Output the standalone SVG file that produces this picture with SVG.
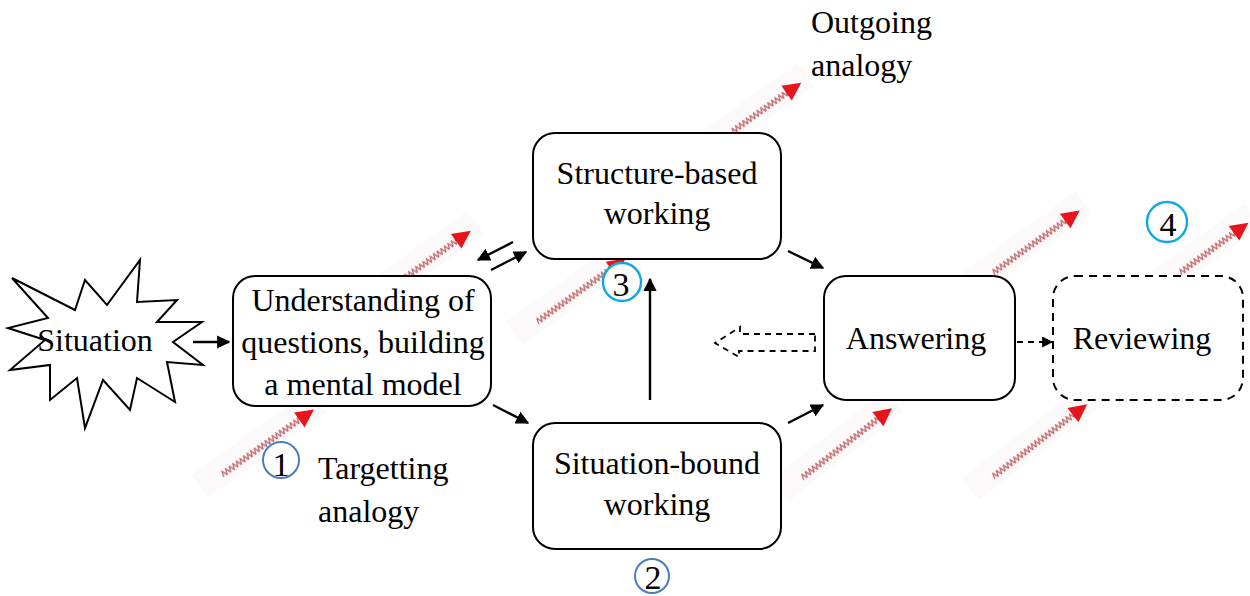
<svg xmlns="http://www.w3.org/2000/svg" width="1250" height="596" viewBox="0 0 1250 596">
  <style>
    .lbl { font-family: "Liberation Serif", "Times New Roman", serif; font-size: 32px; fill: #000; }
    .mid { text-anchor: middle; }
    .box { fill: #fff; stroke: #000; stroke-width: 2; }
    .dbox { fill: #fff; stroke: #000; stroke-width: 2; stroke-dasharray: 8 6; }
    .link { fill: none; stroke: #000; stroke-width: 2.4; marker-end: url(#head); }
    .dlink { fill: none; stroke: #000; stroke-width: 2; stroke-dasharray: 6 5; marker-end: url(#head); }
    .band { fill: #f5f0f0; opacity: 0.4; }
    .tip { fill: #e8141b; }
    .num { font-family: "Liberation Serif", "Times New Roman", serif; font-size: 34px; fill: #000; text-anchor: middle; }
    .c1 { fill: #fff; stroke: #4a7cc2; stroke-width: 2; }
    .c2 { fill: #fff; stroke: #10a8e4; stroke-width: 2.4; }
  </style>
  <defs>
    <marker id="head" viewBox="0 0 10 10" refX="9" refY="5" markerWidth="5.5" markerHeight="5.5" orient="auto" markerUnits="strokeWidth">
      <path d="M0,0 L10,5 L0,10 Z" fill="#000"/>
    </marker>
    <!-- zigzag stroke used by the diagonal wavy arrows -->
    <pattern id="zz" patternUnits="userSpaceOnUse" width="4.4" height="8" y="-4">
      <polyline points="0,7 2.2,1 4.4,7" fill="none" stroke="#c06a6e" stroke-width="1.3"/>
    </pattern>
  </defs>

  <!-- diagonal wavy arrows (drawn beneath the nodes) -->
  <g id="wavy-arrows">
    <g transform="translate(732,132) rotate(-35.5)">
      <rect class="band" x="-25" y="-18" width="118" height="28"/>
      <rect x="0" y="-4" width="70" height="8" fill="url(#zz)"/>
      <path class="tip" d="M67,-9 L85,0 L67,9 Z"/>
    </g>
    <g transform="translate(405,278) rotate(-35.7)">
      <rect class="band" x="-25" y="-18" width="114" height="28"/>
      <rect x="0" y="-4" width="66" height="8" fill="url(#zz)"/>
      <path class="tip" d="M63,-9 L81,0 L63,9 Z"/>
    </g>
    <g transform="translate(537,322) rotate(-35.6)">
      <rect class="band" x="-25" y="-18" width="142" height="28"/>
      <rect x="0" y="-4" width="94" height="8" fill="url(#zz)"/>
      <path class="tip" d="M91,-9 L109,0 L91,9 Z"/>
    </g>
    <g transform="translate(222,475) rotate(-35.5)">
      <rect class="band" x="-25" y="-18" width="146" height="28"/>
      <rect x="0" y="-4" width="98" height="8" fill="url(#zz)"/>
      <path class="tip" d="M95,-9 L113,0 L95,9 Z"/>
    </g>
    <g transform="translate(993,273) rotate(-35.8)">
      <rect class="band" x="-25" y="-18" width="140" height="28"/>
      <rect x="0" y="-4" width="92" height="8" fill="url(#zz)"/>
      <path class="tip" d="M89,-9 L107,0 L89,9 Z"/>
    </g>
    <g transform="translate(1180,273) rotate(-36.3)">
      <rect class="band" x="-25" y="-18" width="118" height="28"/>
      <rect x="0" y="-4" width="70" height="8" fill="url(#zz)"/>
      <path class="tip" d="M67,-9 L85,0 L67,9 Z"/>
    </g>
    <g transform="translate(802,478) rotate(-37.8)">
      <rect class="band" x="-25" y="-18" width="146" height="28"/>
      <rect x="0" y="-4" width="99" height="8" fill="url(#zz)"/>
      <path class="tip" d="M96,-9 L114,0 L96,9 Z"/>
    </g>
    <g transform="translate(993,477) rotate(-37.7)">
      <rect class="band" x="-25" y="-18" width="152" height="28"/>
      <rect x="0" y="-4" width="104" height="8" fill="url(#zz)"/>
      <path class="tip" d="M101,-9 L119,0 L101,9 Z"/>
    </g>
  </g>

  <!-- connectors -->
  <g id="connectors">
    <line class="link" x1="193" y1="342" x2="229" y2="342"/>
    <line class="link" x1="493" y1="405" x2="528" y2="423"/>
    <line class="link" x1="788" y1="251" x2="823" y2="268"/>
    <line class="link" x1="788" y1="423" x2="823" y2="405"/>
    <line class="link" x1="513" y1="242" x2="478" y2="260"/>
    <line class="link" x1="491" y1="270" x2="526" y2="252"/>
    <line class="link" x1="650" y1="400" x2="650" y2="279"/>
    <line class="dlink" x1="1017" y1="342" x2="1052" y2="342"/>
    <!-- hollow dashed block arrow pointing back from Answering -->
    <path d="M815,334 L740,334 L740,327 L715,343 L739,357 L739,351 L815,351 Z" fill="none" stroke="#000" stroke-width="1.8" stroke-dasharray="6 5"/>
  </g>

  <g id="situation">
    <polygon points="12,278 75,310 85,280 107,305 140,260 137,302 177,300 157,322 202,322 173,342 203,365 167,362 175,402 137,378 130,410 103,380 85,428 77,378 50,400 50,365 10,370 45,340 8,328 48,318" fill="#fff" stroke="#000" stroke-width="2" stroke-linejoin="miter"/>
    <text class="lbl mid" x="95" y="351">Situation</text>
  </g>

  <g id="understanding">
    <rect class="box" x="233" y="276" width="258" height="130" rx="22"/>
    <text class="lbl mid" x="363" y="311">Understanding of</text>
    <text class="lbl mid" x="363" y="353">questions, building</text>
    <text class="lbl mid" x="363" y="395">a mental model</text>
  </g>

  <g id="structure-based">
    <rect class="box" x="533" y="133" width="248" height="126" rx="22"/>
    <text class="lbl mid" x="657" y="184">Structure-based</text>
    <text class="lbl mid" x="657" y="224">working</text>
  </g>

  <g id="situation-bound">
    <rect class="box" x="533" y="423" width="248" height="126" rx="22"/>
    <text class="lbl mid" x="657" y="474">Situation-bound</text>
    <text class="lbl mid" x="657" y="515">working</text>
  </g>

  <g id="answering">
    <rect class="box" x="824" y="276" width="191" height="124" rx="22"/>
    <text class="lbl mid" x="916" y="349">Answering</text>
  </g>

  <g id="reviewing">
    <rect class="dbox" x="1053" y="276" width="190" height="124" rx="22"/>
    <text class="lbl mid" x="1142" y="349">Reviewing</text>
  </g>

  <g id="labels">
    <text class="lbl" x="811" y="33">Outgoing</text>
    <text class="lbl" x="811" y="76">analogy</text>
    <text class="lbl" x="318" y="479">Targetting</text>
    <text class="lbl" x="318" y="522">analogy</text>
  </g>

  <g id="markers">
    <circle class="c1" cx="281" cy="460" r="18"/>
    <text class="num" x="281" y="476">1</text>
    <circle class="c1" cx="652" cy="576" r="17"/>
    <text class="num" x="653" y="589">2</text>
    <circle class="c2" cx="622" cy="282" r="19"/>
    <text class="num" x="621" y="296">3</text>
    <circle class="c2" cx="1167" cy="222" r="20"/>
    <text class="num" x="1168" y="236">4</text>
  </g>
</svg>
